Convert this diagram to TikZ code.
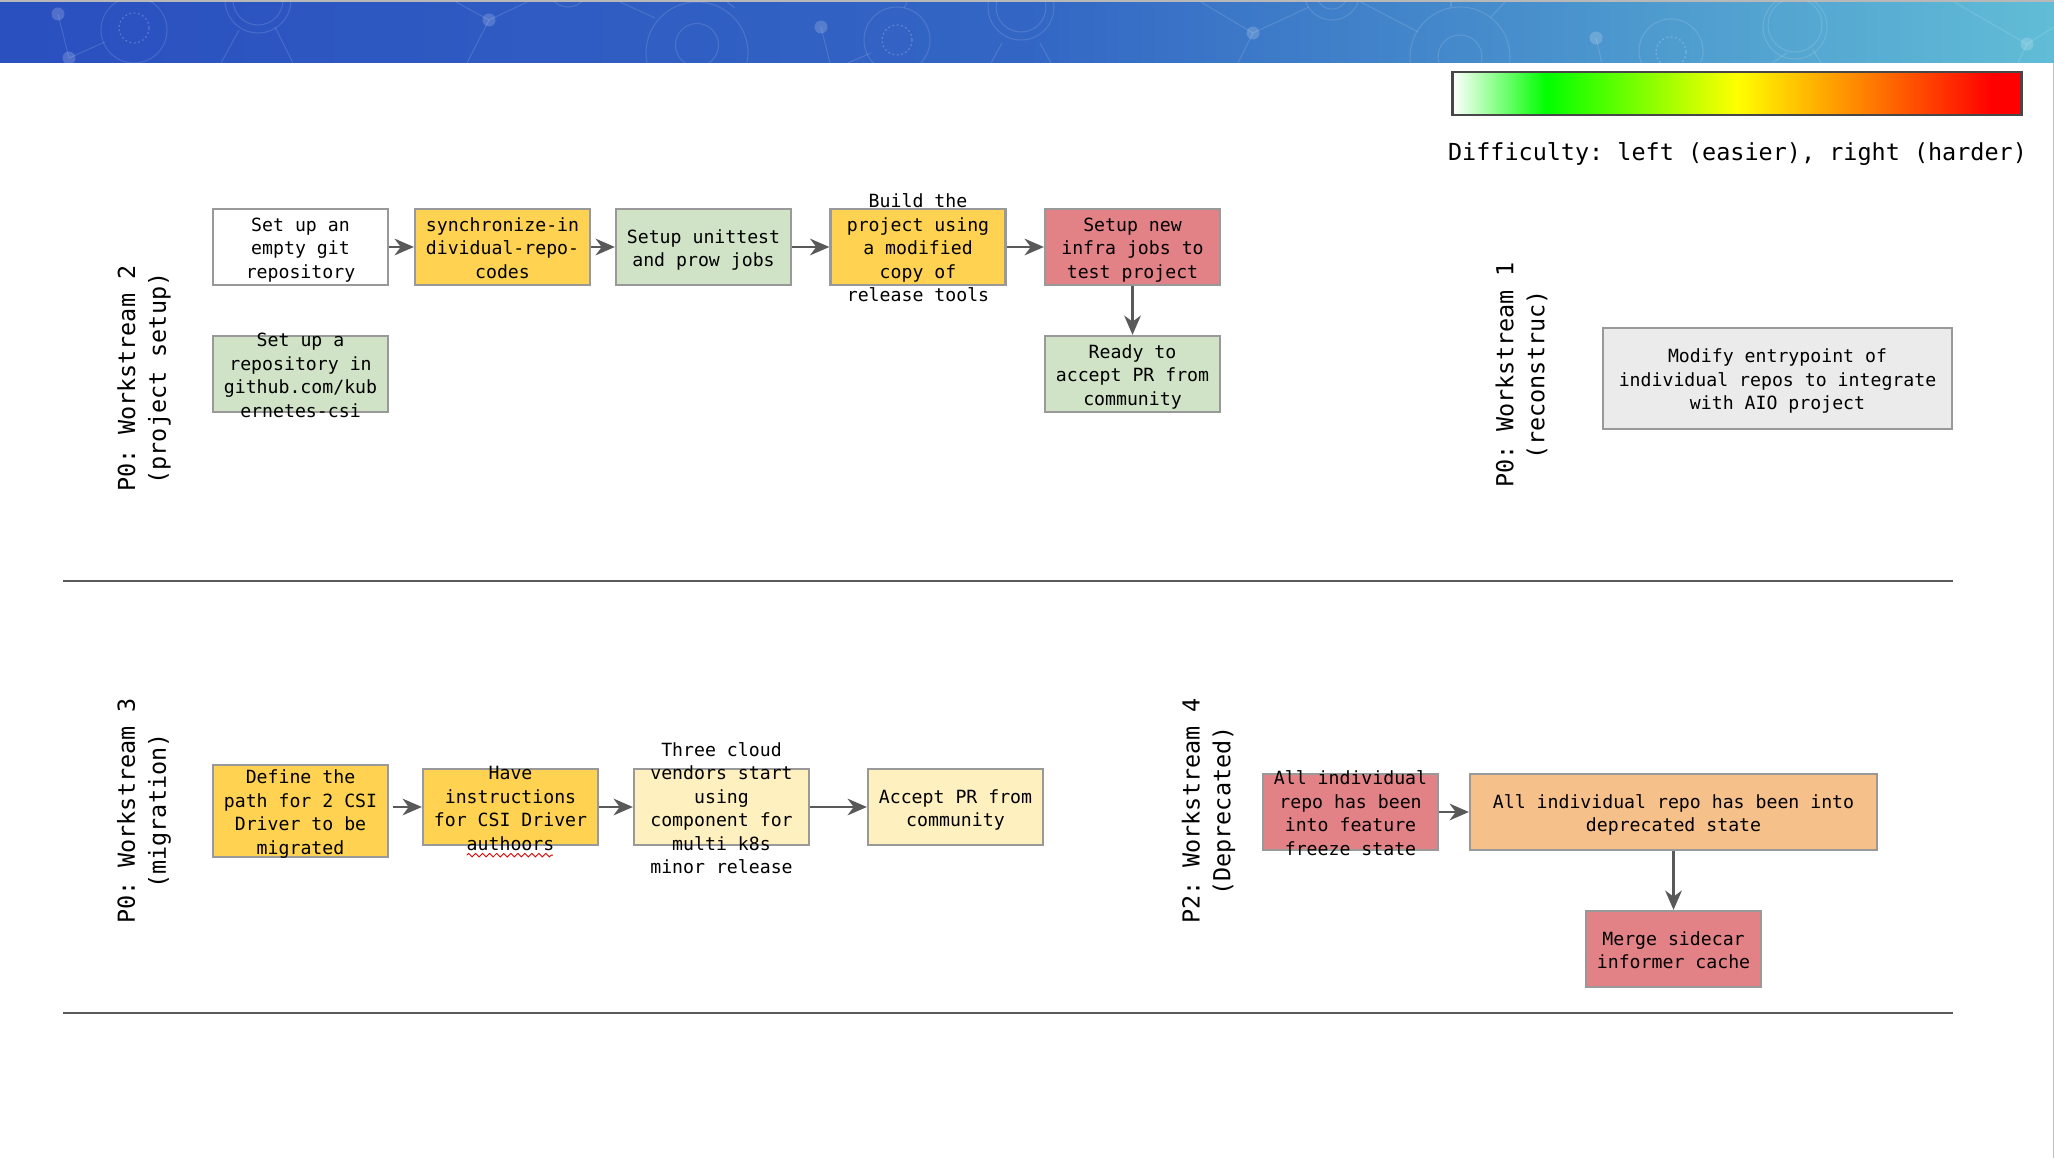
\documentclass[tikz,border=0pt]{standalone}
\usepackage{fontspec}
\usepackage{tikz}
\usetikzlibrary{positioning, arrows.meta, decorations.pathmorphing}
\newfontfamily\monofont{DejaVu Sans Mono}
\definecolor{boxborder}{HTML}{999999}
\definecolor{arrowgray}{HTML}{595959}
\definecolor{rulegray}{HTML}{595959}
\definecolor{taskyellow}{HTML}{FFD351}
\definecolor{taskgreen}{HTML}{D0E3C6}
\definecolor{taskred}{HTML}{E38286}
\definecolor{taskpale}{HTML}{FFF0C0}
\definecolor{taskorange}{HTML}{F6C08A}
\definecolor{taskgray}{HTML}{EBEBEB}
\pgfdeclarehorizontalshading{difficulty}{100bp}{color(0bp)=(white); color(25bp)=(white); color(33.2bp)=(green); color(50bp)=(yellow); color(72.5bp)=(red); color(100bp)=(red)}
\pgfdeclarehorizontalshading{bannerblue}{100bp}{rgb(0bp)=(0.165,0.31,0.75); rgb(25bp)=(0.165,0.31,0.75); rgb(50bp)=(0.2,0.4,0.77); rgb(62bp)=(0.28,0.56,0.8); rgb(75bp)=(0.38,0.74,0.84); rgb(100bp)=(0.38,0.74,0.84)}
% text of a box may run out of the box, as in the slide
\newcommand{\spill}[1]{\smash{\raisebox{-4.3pt}{\begin{tabular}{@{}c@{}}#1\end{tabular}}}}
\tikzset{
    task/.style={draw=boxborder, line width=1.3pt, inner sep=0pt, align=center,
        minimum width=175*0.02cm, minimum height=76*0.02cm,
        font=\monofont\frenchspacing\fontsize{10.35}{13.4}\selectfont},
    flow/.style={draw=arrowgray, line width=1.3pt, -{Stealth[length=11pt, width=9.5pt, inset=3.5pt]}},
    stream/.style={rotate=90, align=center, inner sep=0pt, font=\monofont\frenchspacing\fontsize{13.35}{17.6}\selectfont},
    deco/.style={draw=white, draw opacity=0.13, line width=0.6pt},
    decodot/.style={fill=white, fill opacity=0.18},
    decodots/.style={draw=white, draw opacity=0.22, line width=0.7pt, dash pattern=on 1pt off 1.5pt}
}
\begin{document}
\begin{tikzpicture}[x=0.02cm, y=-0.02cm]
    \useasboundingbox (0,0) rectangle (2054,1158);
    \fill[white] (0,0) rectangle (2054,1158);

    % Draw banner
    \shade[shading=bannerblue] (0,0) rectangle (2054,63);
    \fill[black!28] (0,0) rectangle (2054,2);
    \draw[black!25, line width=0.6pt] (2053.5,63) -- (2053.5,1158);
    \begin{scope}
        \clip (0,2) rectangle (2054,63);
        % first repeat of the pattern
        \fill[decodot] (58,14) circle (6.5);
        \fill[decodot] (69,58) circle (6.5);
        \draw[deco] (58,14) -- (69,58) -- (105,42);
        \draw[deco] (134,30) circle (33);
        \draw[decodots] (134,28) circle (15);
        \draw[deco] (258,0) circle (33);
        \draw[deco] (258,0) circle (25);
        \draw[deco] (239,30) -- (221,63);
        \draw[deco] (275,27) -- (293,63);
        \fill[decodot] (489,20) circle (6.5);
        \draw[deco] (456,2) -- (489,20) -- (527,2);
        \draw[deco] (489,20) -- (467,63);
        \draw[deco] (568,-13) circle (20);
        \draw[deco] (620,2) -- (655,18);
        \draw[deco] (697,53) circle (51);
        \draw[deco] (697,45) circle (21.5);
        \draw[deco] (727,2) -- (735,8);
        % second repeat of the pattern
        \fill[decodot] (821,27) circle (6.5);
        \draw[deco] (821,27) -- (830,63);
        \draw[deco] (848,63) -- (871,53);
        \draw[deco] (897,40) circle (33);
        \draw[decodots] (897,40) circle (15);
        \draw[deco] (907,2) -- (904,8);
        \draw[deco] (1021,7) circle (33);
        \draw[deco] (1021,7) circle (25);
        \draw[deco] (1002,43) -- (991,63);
        \draw[deco] (1040,43) -- (1051,63);
        \fill[decodot] (1253,33) circle (6.5);
        \draw[deco] (1201,2) -- (1253,33) -- (1309,7);
        \draw[deco] (1253,33) -- (1238,63);
        \draw[deco] (1332,-8) circle (28);
        \draw[deco] (1332,-7) circle (16);
        \draw[deco] (1361,2) -- (1418,32);
        \draw[deco] (1460,57) circle (50);
        \draw[deco] (1460,57) circle (22);
        \draw[deco] (1451,2) -- (1451,7);
        \draw[deco] (1491,17) -- (1505,2);
        % third repeat of the pattern
        \fill[decodot] (1596,38) circle (6.5);
        \draw[deco] (1596,38) -- (1602,63);
        \draw[deco] (1671,51) circle (32);
        \draw[decodots] (1671,52) circle (15);
        \draw[deco] (1795,27) circle (32);
        \draw[deco] (1795,25) circle (27);
        \draw[deco] (1787,53) -- (1772,63);
        \draw[deco] (1813,50) -- (1821,63);
        \fill[decodot] (2027,44) circle (6.5);
        \draw[deco] (1954,2) -- (2027,44) -- (2054,27);
        \draw[deco] (2027,44) -- (2018,63);
    \end{scope}

    % Draw difficulty legend
    \node[draw=rulegray!80!black, line width=1.3pt, shading=difficulty, inner sep=0pt,
        minimum width=569*0.02cm, minimum height=43*0.02cm] (legend) at (1737,93.5) {};
    \node[font=\monofont\frenchspacing\fontsize{13.35}{17.6}\selectfont, inner sep=0pt] (legendtext) at (1737.5,154.5) {Difficulty: left (easier), right (harder)};

    % Draw rules between the rows
    \coordinate (rule1a) at (63,581);
    \coordinate (rule1b) at (1953,581);
    \coordinate (rule2a) at (63,1013);
    \coordinate (rule2b) at (1953,1013);
    \draw[rulegray, line width=1.3pt] (rule1a) -- (rule1b);
    \draw[rulegray, line width=1.3pt] (rule2a) -- (rule2b);

    % Draw workstream labels
    \node[stream] (ws2) at (144,378.5) {P0: Workstream 2\\(project setup)};
    \node[stream] (ws1) at (1521.5,375) {P0: Workstream 1\\(reconstruc)};
    \node[stream] (ws3) at (144,811) {P0: Workstream 3\\(migration)};
    \node[stream] (ws4) at (1208.5,811) {P2: Workstream 4\\(Deprecated)};

    % Draw workstream 2 boxes
    \node[task, fill=white] (empty) at (300.5,247) {\spill{Set up an\\empty git\\repository}};
    \node[task, fill=taskyellow] (sync) at (502.5,247) {\spill{synchronize-in\\dividual-repo-\\codes}};
    \node[task, fill=taskgreen] (unittest) at (703.5,247) {\spill{Setup unittest\\and prow jobs}};
    \node[task, fill=taskyellow] (build) at (918,247) {\spill{Build the\\project using\\a modified\\copy of\\release tools}};
    \node[task, fill=taskred] (infra) at (1132.5,247) {\spill{Setup new\\infra jobs to\\test project}};
    \node[task, fill=taskgreen] (csirepo) at (300.5,374) {\spill{Set up a\\repository in\\github.com/kub\\ernetes-csi}};
    \node[task, fill=taskgreen] (ready) at (1132.5,374) {\spill{Ready to\\accept PR from\\community}};

    % Draw workstream 1 box
    \node[task, fill=taskgray, minimum width=349*0.02cm, minimum height=101*0.02cm] (entrypoint) at (1777.5,378.5) {\spill{Modify entrypoint of\\individual repos to integrate\\with AIO project}};

    % Draw workstream 3 boxes
    \node[task, fill=taskyellow, minimum height=92*0.02cm] (path) at (300.5,811) {\spill{Define the\\path for 2 CSI\\Driver to be\\migrated}};
    \node[task, fill=taskyellow] (instr) at (510.5,807) {\spill{Have\\instructions\\for CSI Driver\\authoors}};
    \node[task, fill=taskpale] (vendors) at (721.5,807) {\spill{Three cloud\\vendors start\\using\\component for\\multi k8s\\minor release}};
    \node[task, fill=taskpale] (accept) at (955.5,807) {\spill{Accept PR from\\community}};
    \draw[red!85!black, line width=0.5pt, decorate, decoration={zigzag, amplitude=1pt, segment length=4pt}] (instr.south west) ++(45,9) -- ++(86,0);

    % Draw workstream 4 boxes
    \node[task, fill=taskred] (freeze) at (1350.5,812) {\spill{All individual\\repo has been\\into feature\\freeze state}};
    \node[task, fill=taskorange, minimum width=407*0.02cm] (deprecated) at (1673.5,812) {\spill{All individual repo has been into\\deprecated state}};
    \node[task, fill=taskred] (sidecar) at (1673.5,949) {\spill{Merge sidecar\\informer cache}};

    % Draw arrows
    \draw[flow] (empty) -- (sync);
    \draw[flow] (sync) -- (unittest);
    \draw[flow] (unittest) -- (build);
    \draw[flow] (build) -- (infra);
    \draw[flow] (infra) -- (ready);
    \draw[flow, shorten <=2pt] (path.east |- instr.west) -- (instr.west);
    \draw[flow] (instr) -- (vendors);
    \draw[flow] (vendors) -- (accept);
    \draw[flow] (freeze) -- (deprecated);
    \draw[flow] (deprecated) -- (sidecar);
\end{tikzpicture}
\end{document}
